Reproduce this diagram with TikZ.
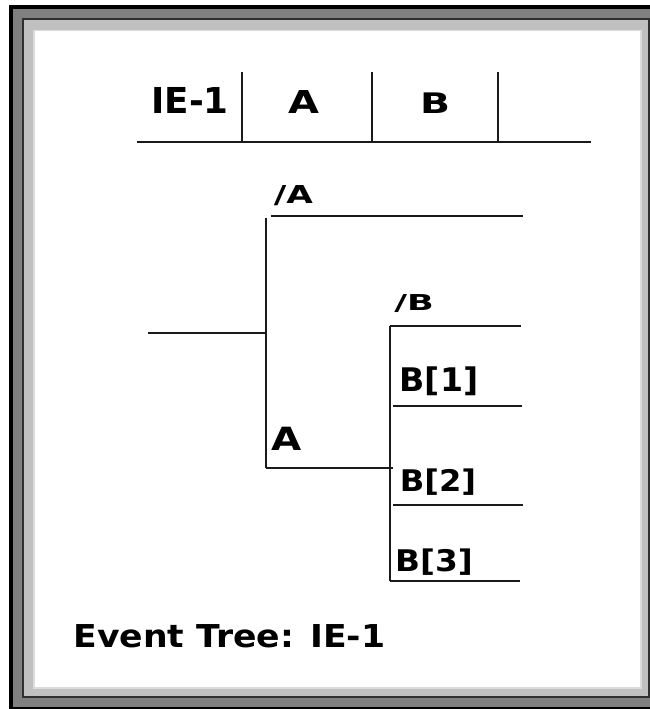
\documentclass[tikz,border=0pt]{standalone}
\usepackage{fontspec}
\setmainfont{DejaVu Sans}
\definecolor{frgrey}{HTML}{808080}
\definecolor{frdark}{HTML}{303030}
\definecolor{frlight}{HTML}{C0C0C0}
\definecolor{frhigh}{HTML}{DCDCDC}
\definecolor{ink}{HTML}{1A1A1A}
\newcommand{\lbl}[3]{\fontsize{#1}{#1}\selectfont\bfseries\scalebox{#2}[1]{#3}}
\tikzset{
  treeline/.style={draw=ink, line width=1.7pt},
  lab/.style={inner sep=0pt, anchor=base, text=black},
}
\begin{document}
\begin{tikzpicture}[x=1pt,y=-1pt]
\useasboundingbox (0,0) rectangle (650,709);
\begin{scope}
\clip (0,0) rectangle (650,709);
\fill[white] (0,0) rectangle (650,709);
\fill[black] (9,5) rectangle (663,711);
\fill[frgrey] (13,9) rectangle (659,707);
\fill[frdark] (22,18) rectangle (650,698);
\fill[frlight] (24,20) rectangle (648,696);
\fill[frhigh] (33,30) rectangle (642,689);
\fill[white] (35,31) rectangle (640,687);
\end{scope}
% header
\coordinate (hl) at (137,142);
\coordinate (hr) at (591,142);
\coordinate (d1t) at (242,72); \coordinate (d1b) at (242,142);
\coordinate (d2t) at (372,72); \coordinate (d2b) at (372,142);
\coordinate (d3t) at (498,72); \coordinate (d3b) at (498,142);
\draw[treeline] (hl) -- (hr);
\draw[treeline] (d1t) -- (d1b);
\draw[treeline] (d2t) -- (d2b);
\draw[treeline] (d3t) -- (d3b);
\node[lab] (hIE) at (190,113) {\lbl{35.7}{1.0}{IE-1}};
\node[lab] (hA) at (303.5,113) {\lbl{31.5}{1.27}{A}};
\node[lab] (hB) at (435,113) {\lbl{28.3}{1.39}{B}};
% tree
\coordinate (s0) at (148,333);
\coordinate (s1) at (266,333);
\coordinate (aTop) at (266,218);
\coordinate (aBot) at (266,468);
\coordinate (naL) at (271,216);
\coordinate (naR) at (523,216);
\coordinate (bJ) at (390,468);
\coordinate (bAe) at (393,468);
\coordinate (bTop) at (390,326);
\coordinate (bBot) at (390,581);
\coordinate (nbR) at (521,326);
\coordinate (b1L) at (393,406);
\coordinate (b1R) at (522,406);
\coordinate (b2L) at (393,505);
\coordinate (b2R) at (523,505);
\coordinate (b3R) at (520,581);
\draw[treeline] (s0) -- (s1);
\draw[treeline] (aTop) -- (aBot);
\draw[treeline] (naL) -- (naR);
\draw[treeline] (aBot) -- (bAe);
\draw[treeline] (bTop) -- (bBot);
\draw[treeline] (bTop) -- (nbR);
\draw[treeline] (b1L) -- (b1R);
\draw[treeline] (b2L) -- (b2R);
\draw[treeline] (bBot) -- (b3R);
\node[lab] (lnA) at (293.5,203) {\lbl{24.7}{1.39}{/A}};
\node[lab] (lnB) at (414,310) {\lbl{21.9}{1.6}{/B}};
\node[lab] (lA) at (286.7,450) {\lbl{32}{1.22}{A}};
\node[lab] (lB1) at (439,391.7) {\lbl{32.5}{1.02}{B[1]}};
\node[lab] (lB2) at (438,491.7) {\lbl{29.8}{1.08}{B[2]}};
\node[lab] (lB3) at (434,571.7) {\lbl{29.8}{1.1}{B[3]}};
\node[lab] (cap) at (229.5,647) {\lbl{31.5}{1.1}{Event Tree: IE-1}};
\end{tikzpicture}
\end{document}
